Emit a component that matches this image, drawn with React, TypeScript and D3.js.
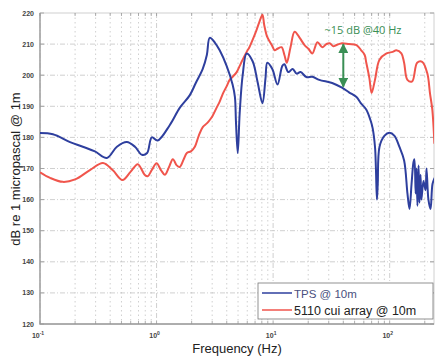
import React, { useRef, useEffect } from 'react';
import * as d3 from 'd3';

// TPS @ 10m (blue)
const tpsFreq = [0.1, 0.129, 0.181, 0.233, 0.296, 0.375, 0.457, 0.556, 0.652, 0.75, 0.83, 0.91, 1.02, 1.3, 1.58, 1.93, 2.17, 2.49, 2.7, 2.86, 3.16, 3.48, 3.99, 4.49, 4.7, 4.8, 4.97, 5.17, 5.48, 5.93, 6.67, 7.34, 8.1, 8.6, 8.92, 9.84, 10.9, 12.0, 12.5, 13.5, 14.7, 15.9, 17.2, 19.3, 21.7, 24.9, 32.1, 39.0, 44.8, 51.9, 56.5, 62.9, 68.5, 71.4, 74.8, 76.2, 77.7, 79, 81.8, 90, 99.6, 110, 121, 133, 142, 148, 154, 160, 163, 167, 170, 173, 177, 180, 184, 187, 195, 203, 207, 215, 224, 233, 243];
const tpsDb = [181.4, 181, 178.5, 177, 175.5, 173.4, 177, 178.5, 177, 174.4, 175, 180, 179, 184, 189.5, 193.6, 197.5, 202, 206.5, 212, 210.5, 208, 203, 197, 193, 185, 175, 188, 200, 207, 204.5, 198, 191, 199, 204, 202, 197, 203, 203.5, 201, 202, 200.5, 201, 199.4, 199.5, 198.5, 197.5, 196, 194.5, 193, 191, 189, 185.5, 183, 177, 170, 160, 165, 177, 180.5, 181.5, 180.5, 177, 172.6, 162, 157, 165, 172, 173, 162, 170, 158, 171, 159, 168, 160, 166, 163, 170, 160, 157, 165, 167];

// 5110 cui array @ 10m (red)
const cuiFreq = [0.1, 0.122, 0.157, 0.2, 0.268, 0.347, 0.42, 0.51, 0.6, 0.69, 0.79, 0.84, 0.91, 1.0, 1.09, 1.18, 1.28, 1.38, 1.49, 1.58, 1.71, 1.82, 1.97, 2.13, 2.3, 2.5, 2.7, 2.86, 3.03, 3.3, 3.48, 3.7, 4.0, 4.24, 4.5, 4.87, 5.17, 5.48, 5.93, 6.26, 6.78, 7.2, 7.6, 8.1, 8.4, 8.9, 9.8, 10.3, 10.9, 11.8, 12.5, 13.1, 14.1, 15.3, 16.9, 18.6, 20.1, 21.7, 24, 26.4, 28.6, 30.5, 32.8, 35, 39, 44.8, 51.9, 57, 61, 63, 67, 70, 74.8, 81.8, 94, 106, 114, 126, 133, 142, 156, 172, 190, 210, 222, 232, 242];
const cuiDb = [168.8, 167, 165.7, 166.5, 169.5, 171.8, 169.5, 166.3, 169, 171.4, 168, 167.5, 169.5, 171.7, 169.5, 168, 170.5, 173, 171, 170.5, 173, 175, 175.5, 177, 180.5, 183.4, 184.5, 185.6, 187, 189.8, 191.5, 194, 196.5, 198.5, 199.5, 201, 203, 205, 207.5, 209, 212, 214.5, 217, 219.4, 216, 212.3, 209.5, 208, 208.5, 209, 206.5, 204, 209, 214, 212, 209.7, 208.5, 207, 210.6, 209, 210, 210.3, 209.3, 209.7, 210.3, 210, 209.7, 208, 206.5, 204, 199, 194.3, 198.5, 205, 207, 207.5, 208, 207, 204, 198.5, 198, 204, 204.3, 200.7, 194, 189, 178];

const yTicks = [120, 130, 140, 150, 160, 170, 180, 190, 200, 210, 220];
const xDecades = [-1, 0, 1, 2];
const legendLabels = ['TPS @ 10m', '5110 cui array @ 10m'];
const annotFreq = 40;
const annotTop = 210.3;
const annotBottom = 196;

const App = () => {
  const svgRef = useRef<SVGSVGElement>(null);

  useEffect(() => {
    document.body.style.margin = '0';
    const width = 436;
    const height = 356;
    const left = 40, right = 434, top = 13, bottom = 324;

    const svg = d3.select(svgRef.current);
    svg.selectAll('*').remove();
    svg.attr('width', width).attr('height', height);

    const x = d3.scaleLog().domain([0.1, 240]).range([left, right]);
    const y = d3.scaleLinear().domain([120, 220]).range([bottom, top]);

    svg.append('rect').attr('width', width).attr('height', height).attr('fill', '#fff');

    const defs = svg.append('defs');
    defs.append('clipPath').attr('id', 'plot-clip')
      .append('rect').attr('x', left).attr('y', top).attr('width', right - left).attr('height', bottom - top);
    const marker = defs.append('marker').attr('id', 'arrow').attr('viewBox', '0 0 10 10')
      .attr('refX', 9).attr('refY', 5).attr('markerWidth', 5).attr('markerHeight', 5)
      .attr('orient', 'auto-start-reverse');
    marker.append('path').attr('d', 'M0,0 L10,5 L0,10 z').attr('fill', '#3a8f55');

    // grid
    const minor: number[] = [];
    xDecades.forEach((e) => {
      for (let m = 1; m < 10; m++) {
        const v = m * Math.pow(10, e);
        if (v >= 0.1 && v <= 240) minor.push(v);
      }
    });
    const grid = svg.append('g');
    grid.selectAll('line.vg').data(minor).enter().append('line')
      .attr('x1', (d) => x(d)).attr('x2', (d) => x(d))
      .attr('y1', top).attr('y2', bottom)
      .attr('stroke', '#c4c4c4').attr('stroke-width', 0.8)
      .attr('stroke-dasharray', (d) => (Math.abs(Math.log10(d) - Math.round(Math.log10(d))) < 1e-6 ? '5,2,1,2' : '1.5,3'));
    grid.selectAll('line.hg').data(yTicks.slice(1, -1)).enter().append('line')
      .attr('x1', left).attr('x2', right)
      .attr('y1', (d) => y(d)).attr('y2', (d) => y(d))
      .attr('stroke', '#c4c4c4').attr('stroke-width', 0.8)
      .attr('stroke-dasharray', '5,2,1,2');

    // frame
    svg.append('rect').attr('x', left).attr('y', top).attr('width', right - left).attr('height', bottom - top)
      .attr('fill', 'none').attr('stroke', '#d0d0d0');
    svg.append('path').attr('d', `M${left},${top} V${bottom} H${right}`)
      .attr('fill', 'none').attr('stroke', '#9a9a9a').attr('stroke-width', 1.3);

    // ticks
    const ticks = svg.append('g').attr('stroke', '#999').attr('stroke-width', 0.8);
    minor.forEach((v) => {
      ticks.append('line').attr('x1', x(v)).attr('x2', x(v)).attr('y1', bottom).attr('y2', bottom - 3);
      ticks.append('line').attr('x1', x(v)).attr('x2', x(v)).attr('y1', top).attr('y2', top + 3);
    });
    yTicks.forEach((v) => {
      ticks.append('line').attr('x1', left).attr('x2', left + 4).attr('y1', y(v)).attr('y2', y(v));
      ticks.append('line').attr('x1', right).attr('x2', right - 4).attr('y1', y(v)).attr('y2', y(v));
    });

    const font = 'Arial, "Liberation Sans", sans-serif';
    svg.append('g').selectAll('text').data(yTicks).enter().append('text')
      .attr('x', left - 6).attr('y', (d) => y(d) + 2.5)
      .attr('text-anchor', 'end').attr('font-family', font).attr('font-size', 7)
      .attr('font-weight', 'bold').attr('fill', '#444').text((d) => d);

    const xl = svg.append('g');
    xDecades.forEach((e) => {
      const t = xl.append('text').attr('x', x(Math.pow(10, e)) - 2).attr('y', bottom + 14)
        .attr('text-anchor', 'middle').attr('font-family', font).attr('font-size', 7)
        .attr('font-weight', 'bold').attr('fill', '#444');
      t.append('tspan').text('10');
      t.append('tspan').attr('dy', -3.5).attr('font-size', 5).text(String(e));
    });

    // axis titles
    svg.append('text').attr('x', 237).attr('y', 353).attr('text-anchor', 'middle')
      .attr('font-family', font).attr('font-size', 13).attr('fill', '#222').text('Frequency (Hz)');
    svg.append('text').attr('transform', 'translate(20,169) rotate(-90)').attr('text-anchor', 'middle')
      .attr('font-family', font).attr('font-size', 13).attr('fill', '#222').text('dB re 1 micropascal @ 1m');

    // lines
    const line = d3.line<[number, number]>().x((d) => x(d[0])).y((d) => y(d[1]))
      .curve(d3.curveCatmullRom.alpha(0.5));
    const plot = svg.append('g').attr('clip-path', 'url(#plot-clip)');
    plot.append('path').datum(d3.zip(cuiFreq, cuiDb) as [number, number][])
      .attr('d', line).attr('fill', 'none').attr('stroke', '#f0554c').attr('stroke-width', 2)
      .attr('stroke-linejoin', 'round');
    plot.append('path').datum(d3.zip(tpsFreq, tpsDb) as [number, number][])
      .attr('d', line).attr('fill', 'none').attr('stroke', '#2e3f9e').attr('stroke-width', 2)
      .attr('stroke-linejoin', 'round');

    // annotation
    svg.append('line').attr('x1', x(annotFreq)).attr('x2', x(annotFreq))
      .attr('y1', y(annotTop) + 1).attr('y2', y(annotBottom) - 1)
      .attr('stroke', '#3a8f55').attr('stroke-width', 2)
      .attr('marker-start', 'url(#arrow)').attr('marker-end', 'url(#arrow)');
    svg.append('text').attr('x', 363).attr('y', 34).attr('text-anchor', 'middle')
      .attr('font-family', '"Open Sans", sans-serif').attr('font-size', 11).attr('fill', '#3a8f55')
      .text('~15 dB @40 Hz');

    // legend
    const lg = svg.append('g');
    lg.append('rect').attr('x', 258).attr('y', 283).attr('width', 175).attr('height', 36)
      .attr('fill', '#fff').attr('stroke', '#777').attr('stroke-width', 0.8);
    const colors = ['#2e3f9e', '#f0554c'];
    legendLabels.forEach((label, i) => {
      const ly = 293 + i * 17;
      lg.append('line').attr('x1', 262).attr('x2', 292).attr('y1', ly).attr('y2', ly)
        .attr('stroke', colors[i]).attr('stroke-width', 1.5);
      lg.append('text').attr('x', 294).attr('y', ly + 4.5).attr('font-family', font)
        .attr('font-size', i === 0 ? 11.5 : 12.5).attr('fill', i === 0 ? '#4a5080' : '#222').text(label);
    });
  }, []);

  return <svg ref={svgRef}></svg>;
};

export default App;
